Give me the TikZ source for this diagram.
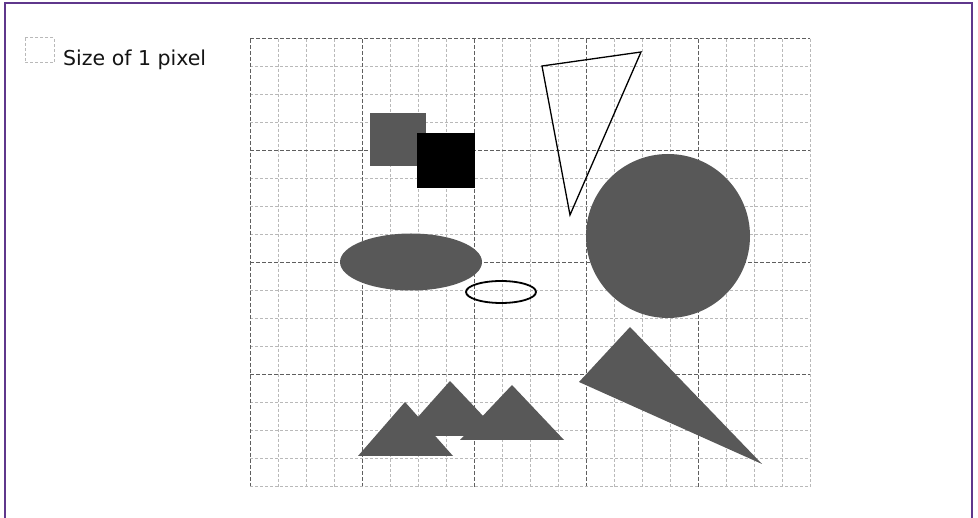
\documentclass[tikz,border=0pt]{standalone}
\usepackage{fontspec}
\setmainfont{DejaVu Sans}
\definecolor{framepurple}{RGB}{95,55,140}
\definecolor{shapegray}{RGB}{88,88,88}
\definecolor{gridlight}{RGB}{185,185,185}
\definecolor{griddark}{RGB}{95,95,95}
\tikzset{
  lightgrid/.style={draw=gridlight,line width=1pt,dash pattern=on 3pt off 2pt},
  darkgrid/.style={draw=griddark,line width=1pt,dash pattern=on 4pt off 2pt},
  outlineshape/.style={draw=black,line width=1.5pt,fill=none},
}
\begin{document}
\begin{tikzpicture}[x=1pt,y=-1pt]
\useasboundingbox (0,0) rectangle (978,518);
\fill[white] (0,0) rectangle (978,518);
% frame
\draw[framepurple,line width=1.6pt] (5,518) -- (5,3) -- (972,3) -- (972,518);
% legend
\draw[lightgrid] (25,38) rectangle (54,63);
\node[anchor=base west,font=\fontsize{20.5}{24}\selectfont,text=black!92,inner sep=0pt] (legend) at (63,66) {Size of 1 pixel};
% grid light lines
\foreach \i in {1,2,3,5,6,7,9,10,11,13,14,15,17,18,19} {
  \draw[lightgrid] ({250+28*\i},39) -- ({250+28*\i},487);
}
\foreach \j in {1,2,3,5,6,7,9,10,11,13,14,15} {
  \draw[lightgrid] (250,{39+28*\j}) -- (810,{39+28*\j});
}
% grid dark lines
\foreach \i in {0,4,8,12,16} {
  \draw[darkgrid] ({250+28*\i},39) -- ({250+28*\i},487);
}
\foreach \j in {0,4,8,12} {
  \draw[darkgrid] (250,{39+28*\j}) -- (810,{39+28*\j});
}
\draw[lightgrid] (810,39) -- (810,487);
\draw[lightgrid] (250,487) -- (810,487);
% squares
\fill[shapegray] (370,113) rectangle (426,166);
\fill[black] (417,133) rectangle (475,188);
% outline triangle
\draw[outlineshape,line width=1.3pt,line join=miter] (542,66) -- (641,52) -- (570,215) -- cycle;
% circle
\fill[shapegray] (668,236) circle (82);
% ellipses
\fill[shapegray] (411,262) ellipse [x radius=71, y radius=28.5];
\draw[outlineshape,line width=1.8pt] (501,292) ellipse [x radius=35, y radius=11];
% big triangle
\fill[shapegray] (630,327) -- (579,382) -- (762,464) -- cycle;
% mountains
\fill[shapegray] (358,456) -- (405,402) -- (453,456) -- cycle;
\fill[shapegray] (401,436) -- (450,381) -- (502,436) -- cycle;
\fill[shapegray] (460,440) -- (512,385) -- (564,440) -- cycle;
\end{tikzpicture}
\end{document}
